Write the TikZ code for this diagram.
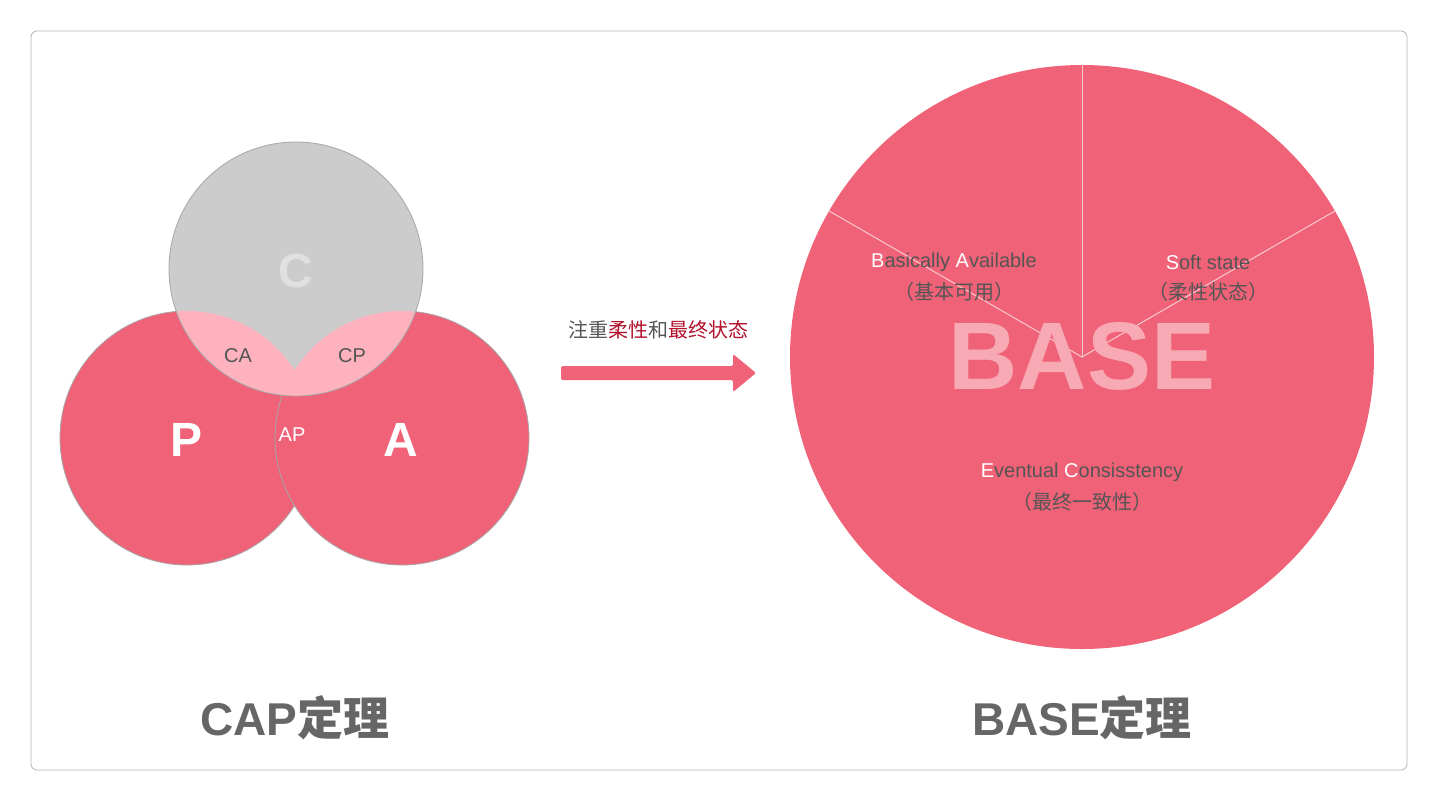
\documentclass[tikz,border=0pt]{standalone}
\usepackage{fontspec}
\setmainfont{Liberation Sans}
\newfontfamily\cjk{Noto Sans CJK SC}
\definecolor{red1}{HTML}{F06277}
\definecolor{gray1}{HTML}{CCCCCC}
\definecolor{pink1}{HTML}{FDB2BE}
\definecolor{txt}{HTML}{555555}
\definecolor{dred}{HTML}{B0102A}
\definecolor{ttl}{HTML}{666666}
\begin{document}
\begin{tikzpicture}[x=1pt,y=-1pt,
  circ/.style={draw=black!35,line width=0.8pt},
  lbl/.style={text=txt,font=\fontsize{20}{22}\selectfont,inner sep=0},
  ttlsty/.style={text=ttl,font=\fontsize{46}{50}\selectfont\bfseries,inner sep=0}]
\useasboundingbox (0,0) rectangle (1438,801);
\draw[black!30,line width=0.8pt,rounded corners=6] (31,31) rectangle (1407,770);
% Venn
\coordinate (cc) at (296,269);
\coordinate (pc) at (187,438);
\coordinate (ac) at (402,438);
\fill[red1] (pc) circle (127);
\draw[circ] (pc) circle (127);
\fill[red1] (ac) circle (127);
\draw[circ] (ac) circle (127);
\fill[gray1] (cc) circle (127);
\begin{scope}
\clip (cc) circle (127);
\fill[pink1] (pc) circle (127);
\fill[pink1] (ac) circle (127);
\end{scope}
\draw[circ] (cc) circle (127);
\node[text=white!88!black,font=\fontsize{48}{50}\selectfont\bfseries] (lc) at (296,271) {C};
\node[text=white,font=\fontsize{48}{50}\selectfont\bfseries] (lp) at (187,440) {P};
\node[text=white,font=\fontsize{48}{50}\selectfont\bfseries] (la) at (401,440) {A};
\node[lbl,text=txt] (lca) at (238,356) {CA};
\node[lbl,text=txt] (lcp) at (352,356) {CP};
\node[lbl,text=white] (lap) at (292,435) {AP};
% arrow
\node[inner sep=0,font=\cjk\fontsize{20}{22}\selectfont] (atext) at (658,330) {\textcolor{txt}{注重}\textcolor{dred}{柔性}\textcolor{txt}{和}\textcolor{dred}{最终状态}};
\coordinate (as) at (561,373);
\coordinate (ae) at (756,373);
\fill[red1,rounded corners=1.5] (561,366) -- (733,366) -- (733,354) -- (756,373) -- (733,392) -- (733,380) -- (561,380) -- cycle;
% BASE pie
\coordinate (bc) at (1082,357);
\fill[red1] (bc) circle (292);
\draw[white!65!red1,line width=1pt] (bc) -- ++(90:-292);
\draw[white!65!red1,line width=1pt] (bc) -- ++(210:292) ;
\draw[white!65!red1,line width=1pt] (bc) -- ++(-30:292);
\node[text=white!45!red1,font=\fontsize{96}{100}\selectfont\bfseries,inner sep=0] (bigbase) at (1082,356) {BASE};
\node[lbl] (ba) at (954,262) {\textcolor{white}{B}asically \textcolor{white}{A}vailable};
\node[lbl,font=\cjk\fontsize{20}{22}\selectfont] (ba2) at (954,292) {（基本可用）};
\node[lbl] (ss) at (1208,262) {\textcolor{white}{S}oft state};
\node[lbl,font=\cjk\fontsize{20}{22}\selectfont] (ss2) at (1208,292) {（柔性状态）};
\node[lbl] (ec) at (1082,472) {\textcolor{white}{E}ventual \textcolor{white}{C}onsisstency};
\node[lbl,font=\cjk\fontsize{20}{22}\selectfont] (ec2) at (1082,502) {（最终一致性）};
% titles
\node[ttlsty] (t1) at (295,718) {CAP{\cjk 定理}};
\node[ttlsty] (t2) at (1082,718) {BASE{\cjk 定理}};
\end{tikzpicture}
\end{document}
